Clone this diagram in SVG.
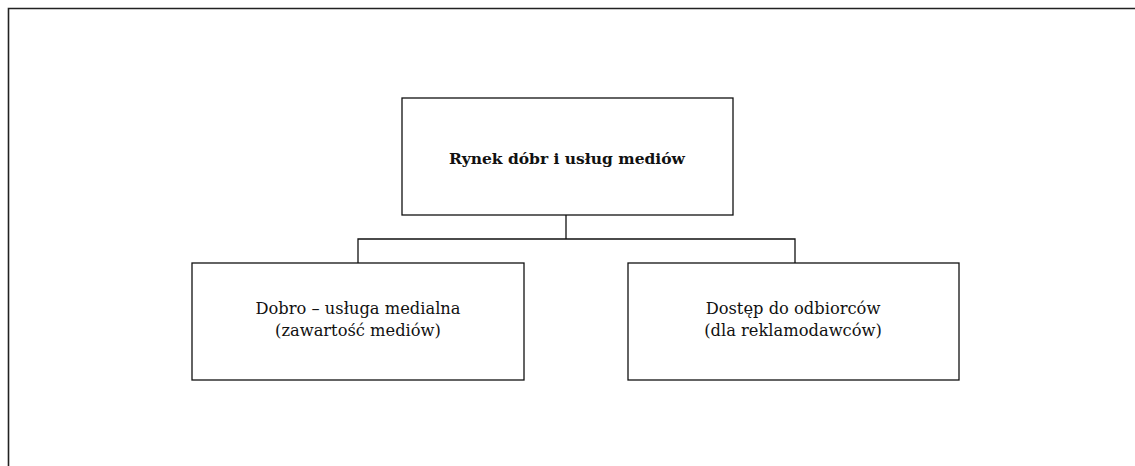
<svg xmlns="http://www.w3.org/2000/svg" width="1135" height="466" viewBox="0 0 1135 466">
<style>
.box{fill:#fff;stroke:#111;stroke-width:1.3}
.frame{fill:none;stroke:#222;stroke-width:1.6}
.con{fill:none;stroke:#111;stroke-width:1.3}
text{font-family:"DejaVu Serif","Liberation Serif",serif;font-size:16.3px;fill:#111;text-anchor:middle}
.b{font-weight:bold;font-size:15.5px}
</style>
<rect width="1135" height="466" fill="#fff"/>
<path class="frame" d="M8.5,466 V8.5 H1135"/>
<g id="connectors">
<path class="con" d="M566,215 V239 M358,263 V239 H795 V263"/>
</g>
<g id="node-top">
<rect class="box" x="402" y="98" width="331" height="117"/>
<text class="b" x="567" y="164">Rynek dóbr i usług mediów</text>
</g>
<g id="node-left">
<rect class="box" x="192" y="263" width="332" height="117"/>
<text x="358" y="314">Dobro – usługa medialna</text>
<text x="358" y="336">(zawartość mediów)</text>
</g>
<g id="node-right">
<rect class="box" x="628" y="263" width="331" height="117"/>
<text x="793" y="314">Dostęp do odbiorców</text>
<text x="793" y="336">(dla reklamodawców)</text>
</g>
</svg>
